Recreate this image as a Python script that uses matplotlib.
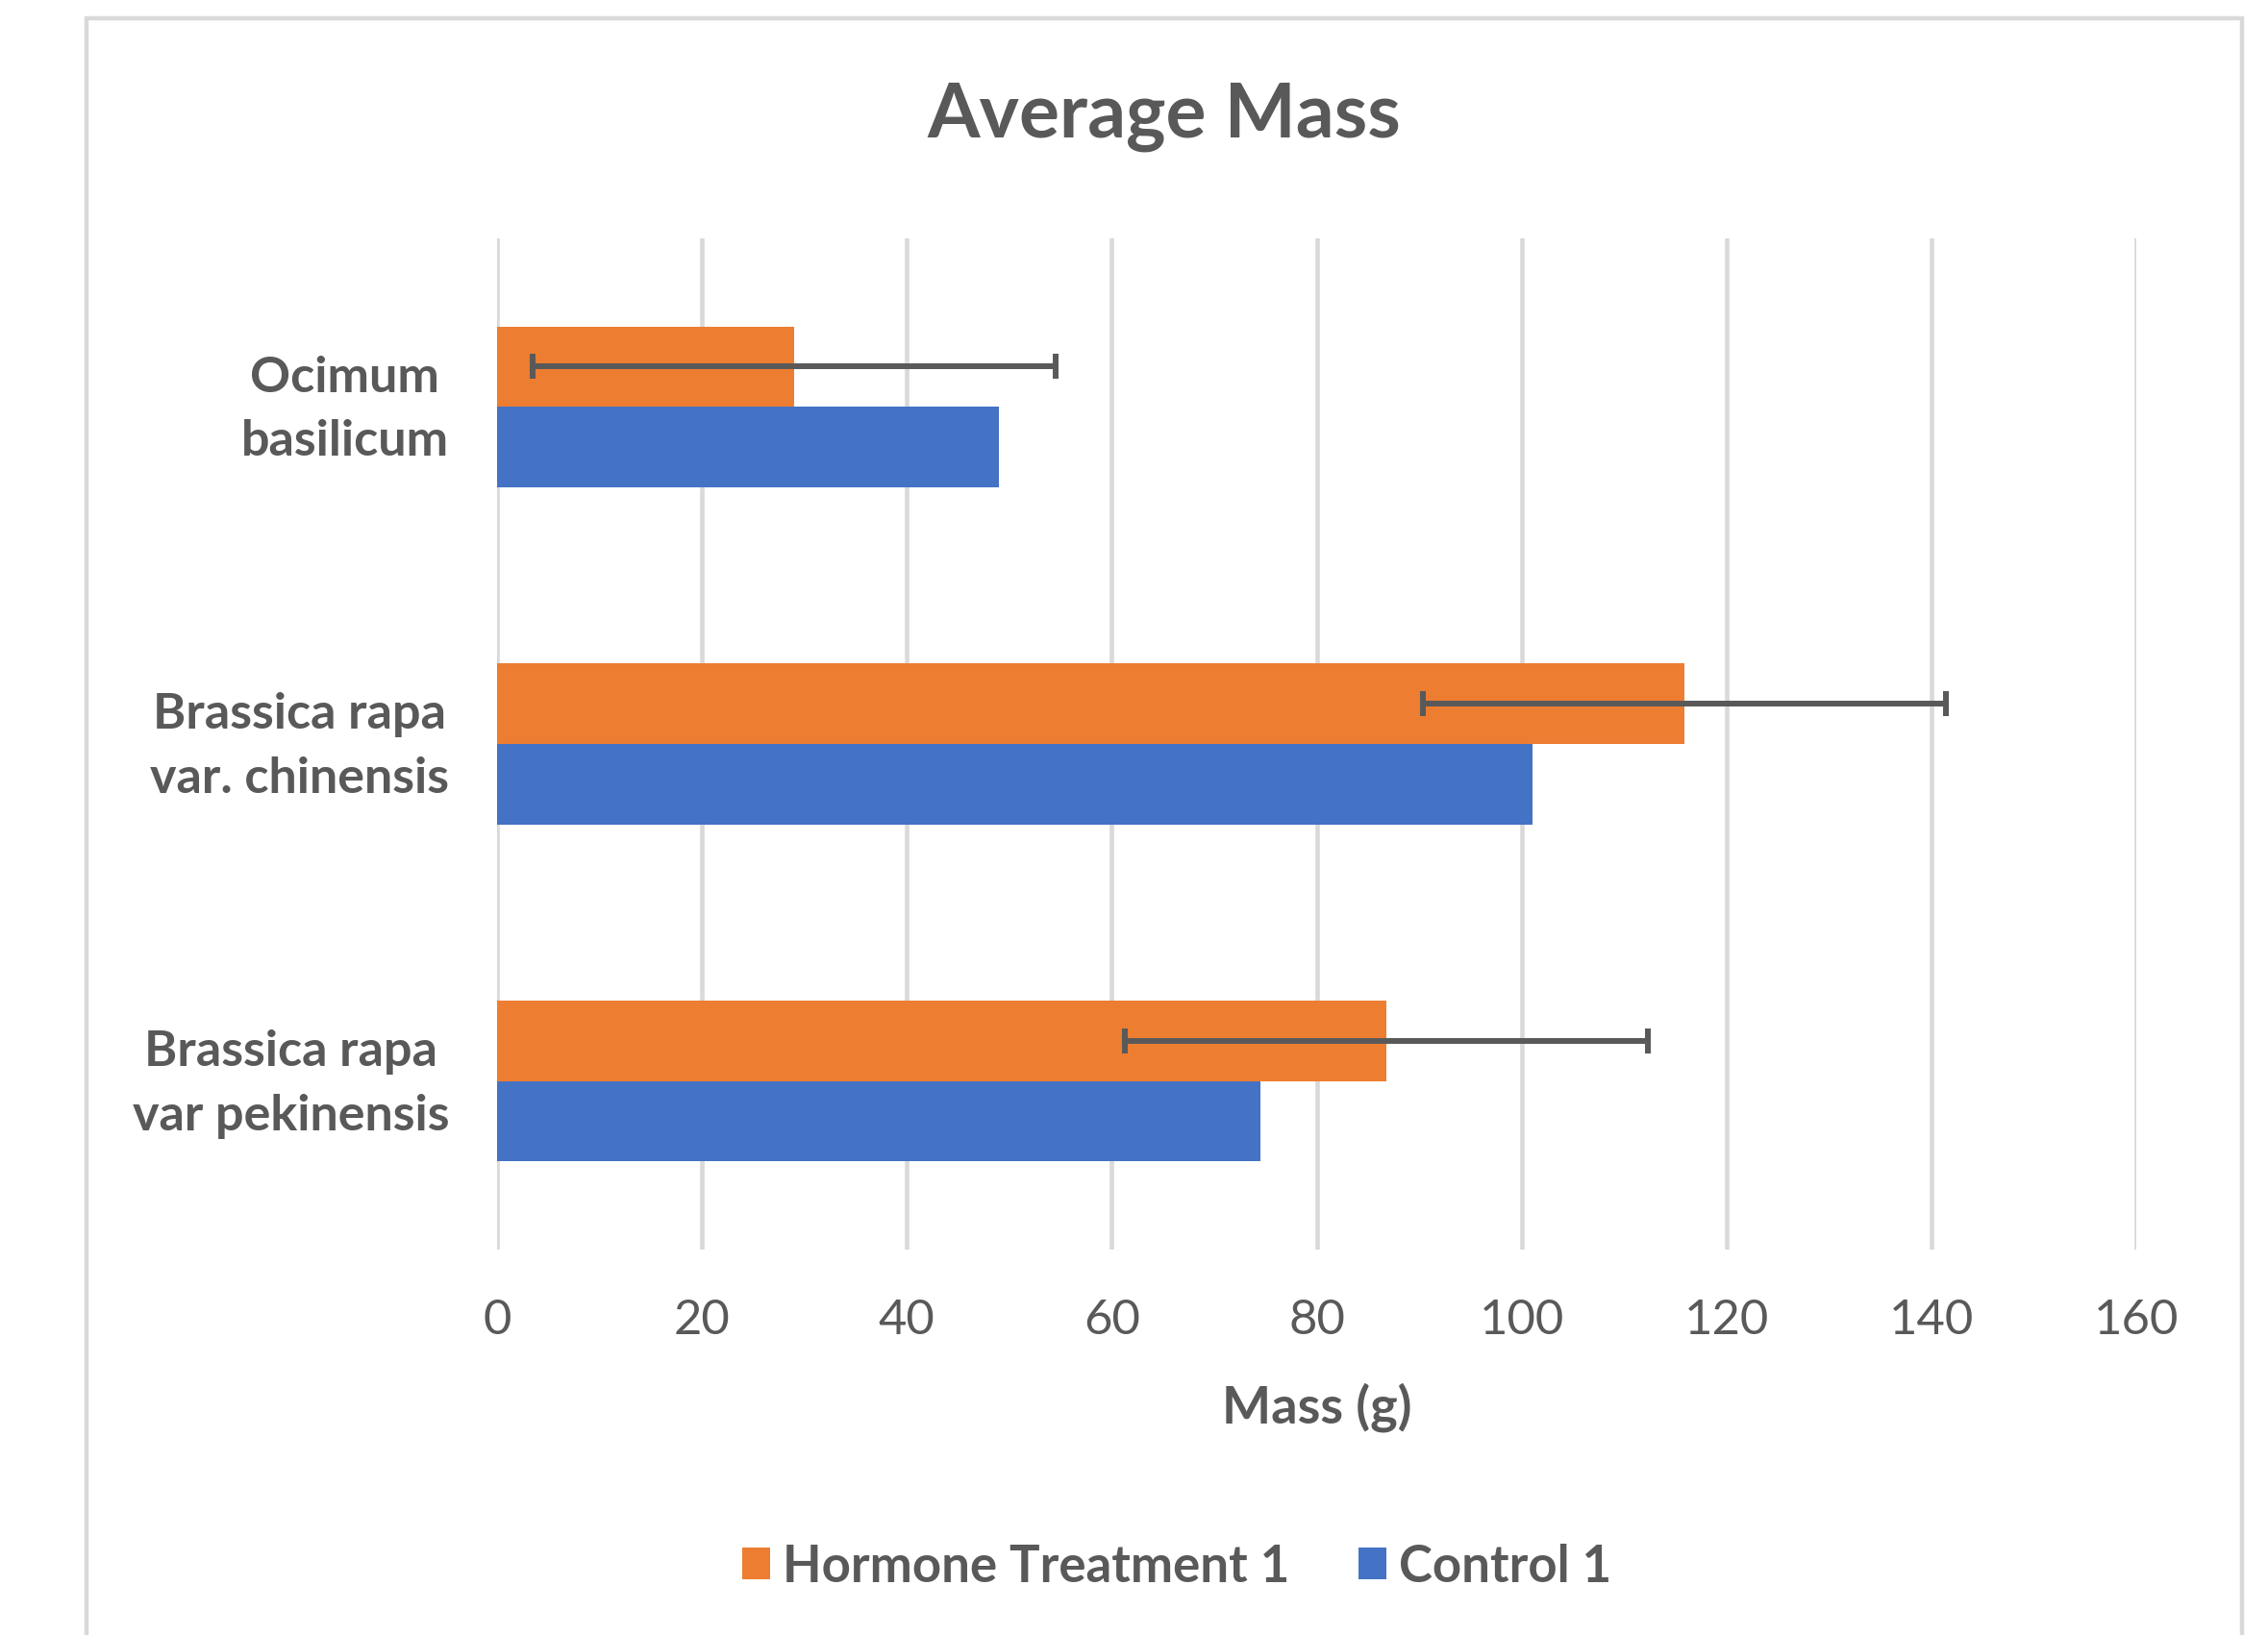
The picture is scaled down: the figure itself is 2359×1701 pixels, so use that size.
import matplotlib
matplotlib.use("Agg")
import matplotlib.pyplot as plt
from matplotlib.patches import Rectangle, Patch
import numpy as np

categories = ["Brassica rapa\nvar pekinensis", "Brassica rapa\nvar. chinensis", "Ocimum\nbasilicum"]
hormone = [86.8, 115.9, 29.0]
control = [74.5, 101.1, 49.0]
hormone_err = [25.5, 25.5, 25.5]
series_names = ["Hormone Treatment 1", "Control 1"]
xticks = [0, 20, 40, 60, 80, 100, 120, 140, 160]

ORANGE = "#ED7D31"
BLUE = "#4472C4"
TXT = "#595959"
GRID = "#D9D9D9"

plt.rcParams['font.family'] = ['Lato', 'DejaVu Sans']

W, H = 2359, 1701
fig = plt.figure(figsize=(W / 100, H / 100), dpi=100)
fig.patch.set_facecolor("white")

# chart border
fig.patches.append(Rectangle((90 / W, -0.05), (2332 - 90) / W, 1 - 19 / H + 0.05,
                             transform=fig.transFigure, fill=False,
                             edgecolor=GRID, linewidth=3.2))

ax = fig.add_axes([517 / W, 1 - 1300 / H, (2222 - 517) / W, (1300 - 248) / H])

y = np.arange(len(categories))
h = 0.239
ax.barh(y + h / 2, hormone, height=h, color=ORANGE, zorder=3, label=series_names[0])
ax.barh(y - h / 2, control, height=h, color=BLUE, zorder=3, label=series_names[1])
ax.errorbar(hormone, y + h / 2, xerr=hormone_err, fmt="none", ecolor=TXT,
            elinewidth=4.3, capsize=9.7, capthick=4.3, zorder=4)

ax.set_xlim(0, 160)
ax.set_ylim(-0.5, 2.5)
ax.set_xticks(xticks)
ax.set_xticklabels([str(t) for t in xticks])
# small upward nudge of the category labels (visual text offset only)
ax.set_yticks(y + 0.032)
ax.set_yticklabels(categories)
for lbl in ax.get_yticklabels():
    lbl.set_multialignment("center")
    lbl.set_fontweight("bold")
    lbl.set_fontsize(37.5)
    lbl.set_color(TXT)
    lbl.set_linespacing(1.52)
ax.tick_params(axis="x", length=0, pad=37, labelsize=36.5, labelcolor=TXT)
ax.tick_params(axis="y", length=0, pad=36)
for s in ax.spines.values():
    s.set_visible(False)
ax.grid(axis="x", color=GRID, linewidth=3.3, zorder=0)
ax.set_axisbelow(True)

ax.set_xlabel("Mass (g)", fontsize=39, fontweight="bold", color=TXT)
ax.xaxis.set_label_coords(0.5, (1 - 1464 / H - (1 - 1300 / H)) / ((1300 - 248) / H))
ax.xaxis.label.set_va("center")

fig.text(1211 / W, 1 - 122 / H, "Average Mass", ha="center", va="center",
         fontsize=56.5, fontweight="bold", color=TXT)

handles = [Patch(facecolor=ORANGE), Patch(facecolor=BLUE)]
leg = fig.legend(handles, series_names, loc="center", bbox_to_anchor=(1224 / W, 1 - 1630 / H),
                 ncol=2, frameon=False, handlelength=0.55, handleheight=0.59,
                 handletextpad=0.25, columnspacing=1.35,
                 prop={"family": ["Lato", "DejaVu Sans"], "weight": "bold", "size": 38})
for t in leg.get_texts():
    t.set_color(TXT)

fig.savefig("out.png", dpi=100, facecolor="white")
